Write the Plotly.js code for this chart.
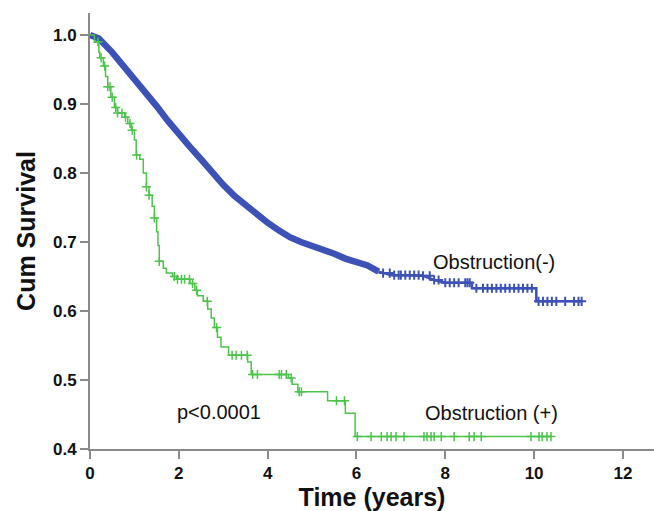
<!DOCTYPE html>
<html>
<head>
<meta charset="utf-8">
<script src="https://cdn.plot.ly/plotly-3.0.1.min.js"></script>
<style>html,body{margin:0;padding:0;background:#fff;}#chart{width:654px;height:511px;}</style>
</head>
<body>
<div id="chart"></div>
<script>
// Obstruction(-) : dense early part (drawn as a band) and later stepped tail
const negTime = [0, 0.2, 0.5, 0.75, 1.0, 1.25, 1.5, 1.75, 2.0, 2.25, 2.5, 2.75, 3.0, 3.25, 3.5, 3.75, 4.0, 4.25, 4.5, 4.75, 5.0, 5.25, 5.5, 5.75, 6.0, 6.25, 6.5];
const negSurv = [1.0, 0.995, 0.975, 0.956, 0.937, 0.918, 0.897, 0.876, 0.856, 0.838, 0.82, 0.801, 0.783, 0.767, 0.753, 0.74, 0.728, 0.717, 0.707, 0.7, 0.695, 0.69, 0.683, 0.676, 0.672, 0.666, 0.657];
const negTailTime = [6.5, 6.6, 6.8, 7.0, 7.5, 7.75, 8.0, 8.6, 8.6, 10.05, 10.05, 11.07];
const negTailSurv = [0.657, 0.655, 0.652, 0.652, 0.651, 0.645, 0.641, 0.641, 0.633, 0.633, 0.614, 0.614];
const negCensor = [6.6, 6.75, 6.85, 6.95, 7.0, 7.1, 7.2, 7.3, 7.4, 7.5, 7.65, 7.75, 7.85, 8.0, 8.1, 8.2, 8.3, 8.45, 8.5, 8.55, 8.7, 8.85, 8.95, 9.05, 9.15, 9.25, 9.35, 9.45, 9.55, 9.65, 9.75, 9.85, 9.95, 10.1, 10.2, 10.3, 10.4, 10.5, 10.7, 10.9, 11.0, 11.07];

// Obstruction(+) : Kaplan-Meier steps
const posTime = [0, 0.1, 0.2, 0.22, 0.3, 0.35, 0.4, 0.47, 0.55, 0.62, 0.78, 0.85, 0.93, 1.0, 1.04, 1.12, 1.2, 1.27, 1.33, 1.4, 1.45, 1.5, 1.53, 1.56, 1.65, 1.72, 1.86, 1.95, 2.25, 2.36, 2.42, 2.55, 2.65, 2.73, 2.8, 2.87, 2.95, 3.12, 3.55, 3.63, 4.47, 4.55, 4.68, 5.35, 5.75, 5.97, 10.38];
const posSurv = [1.0, 0.99, 0.975, 0.967, 0.955, 0.94, 0.925, 0.91, 0.895, 0.887, 0.881, 0.872, 0.862, 0.848, 0.826, 0.82, 0.8, 0.78, 0.768, 0.752, 0.735, 0.715, 0.695, 0.672, 0.662, 0.655, 0.65, 0.646, 0.64, 0.63, 0.622, 0.614, 0.603, 0.59, 0.576, 0.562, 0.548, 0.536, 0.526, 0.508, 0.503, 0.494, 0.483, 0.47, 0.452, 0.418, 0.418];
const posCensor = [0.18, 0.25, 0.33, 0.4, 0.45, 0.5, 0.58, 0.62, 0.72, 0.8, 0.9, 0.95, 1.05, 1.27, 1.33, 1.45, 1.56, 1.9, 1.97, 2.06, 2.13, 2.24, 2.31, 2.4, 2.64, 2.85, 3.2, 3.29, 3.41, 3.54, 3.66, 3.77, 4.26, 4.31, 4.42, 4.53, 4.71, 4.76, 5.55, 5.73, 6.02, 6.33, 6.56, 6.69, 6.78, 6.89, 7.07, 7.52, 7.59, 7.68, 7.75, 7.91, 8.2, 8.54, 8.65, 8.81, 9.93, 10.11, 10.18, 10.29, 10.38];

const xTicks = [0, 2, 4, 6, 8, 10, 12];
const yTicks = [0.4, 0.5, 0.6, 0.7, 0.8, 0.9, 1.0];

function stepAt(times, surv, t) {
  let v = surv[0];
  for (let i = 0; i < times.length; i++) { if (times[i] <= t) v = surv[i]; }
  return v;
}

const BLUE = '#3d52b6';
const GREEN = '#4cc44c';

const traces = [
  {x: negTime, y: negSurv, mode: 'lines', line: {color: BLUE, width: 6.5}, hoverinfo: 'skip'},
  {x: negTailTime, y: negTailSurv, mode: 'lines', line: {color: BLUE, width: 2.5}, hoverinfo: 'skip'},
  {x: negCensor, y: negCensor.map(t => stepAt(negTailTime, negTailSurv, t)), mode: 'markers',
   marker: {symbol: 'cross-thin', size: 6.5, line: {color: BLUE, width: 2}}, hoverinfo: 'skip'},
  {x: posTime, y: posSurv, mode: 'lines', line: {color: GREEN, width: 1.5, shape: 'hv'}, hoverinfo: 'skip'},
  {x: posCensor, y: posCensor.map(t => stepAt(posTime, posSurv, t)), mode: 'markers',
   marker: {symbol: 'cross-thin', size: 6.5, line: {color: GREEN, width: 1.5}}, hoverinfo: 'skip'}
];

const FONT = 'Liberation Sans, Arial, sans-serif';
const layout = {
  width: 654, height: 511,
  margin: {l: 90, r: 0, t: 13, b: 62},
  paper_bgcolor: '#fff', plot_bgcolor: '#fff',
  showlegend: false,
  font: {family: FONT, color: '#111'},
  xaxis: {
    range: [0, 12.7], tickvals: xTicks, ticktext: xTicks.map(String),
    showgrid: false, zeroline: false, showline: true, linecolor: '#8a8a8a', linewidth: 2,
    ticks: 'outside', ticklen: 8, tickwidth: 2, tickcolor: '#8a8a8a',
    tickfont: {family: FONT, size: 17, color: '#111', weight: 'bold'},
    title: {text: '<b>Time (years)</b>', font: {family: FONT, size: 25, color: '#111'}, standoff: 4}
  },
  yaxis: {
    range: [0.4, 1.032], tickvals: yTicks, ticktext: yTicks.map(v => v.toFixed(1)),
    showgrid: false, zeroline: false, showline: true, linecolor: '#8a8a8a', linewidth: 2,
    ticks: 'outside', ticklen: 8, tickwidth: 2, tickcolor: '#8a8a8a',
    tickfont: {family: FONT, size: 17, color: '#111', weight: 'bold'},
    title: {text: '<b>Cum Survival</b>', font: {family: FONT, size: 25, color: '#111'}, standoff: 10}
  },
  annotations: [
    {x: 9.1, y: 0.671, xref: 'x', yref: 'y', text: 'Obstruction(-)', showarrow: false, font: {family: FONT, size: 20, color: '#111'}},
    {x: 9.05, y: 0.452, xref: 'x', yref: 'y', text: 'Obstruction (+)', showarrow: false, font: {family: FONT, size: 20, color: '#111'}},
    {x: 2.9, y: 0.454, xref: 'x', yref: 'y', text: 'p<0.0001', showarrow: false, font: {family: FONT, size: 20, color: '#111'}}
  ]
};

Plotly.newPlot('chart', traces, layout, {displayModeBar: false, staticPlot: true});
</script>
</body>
</html>
